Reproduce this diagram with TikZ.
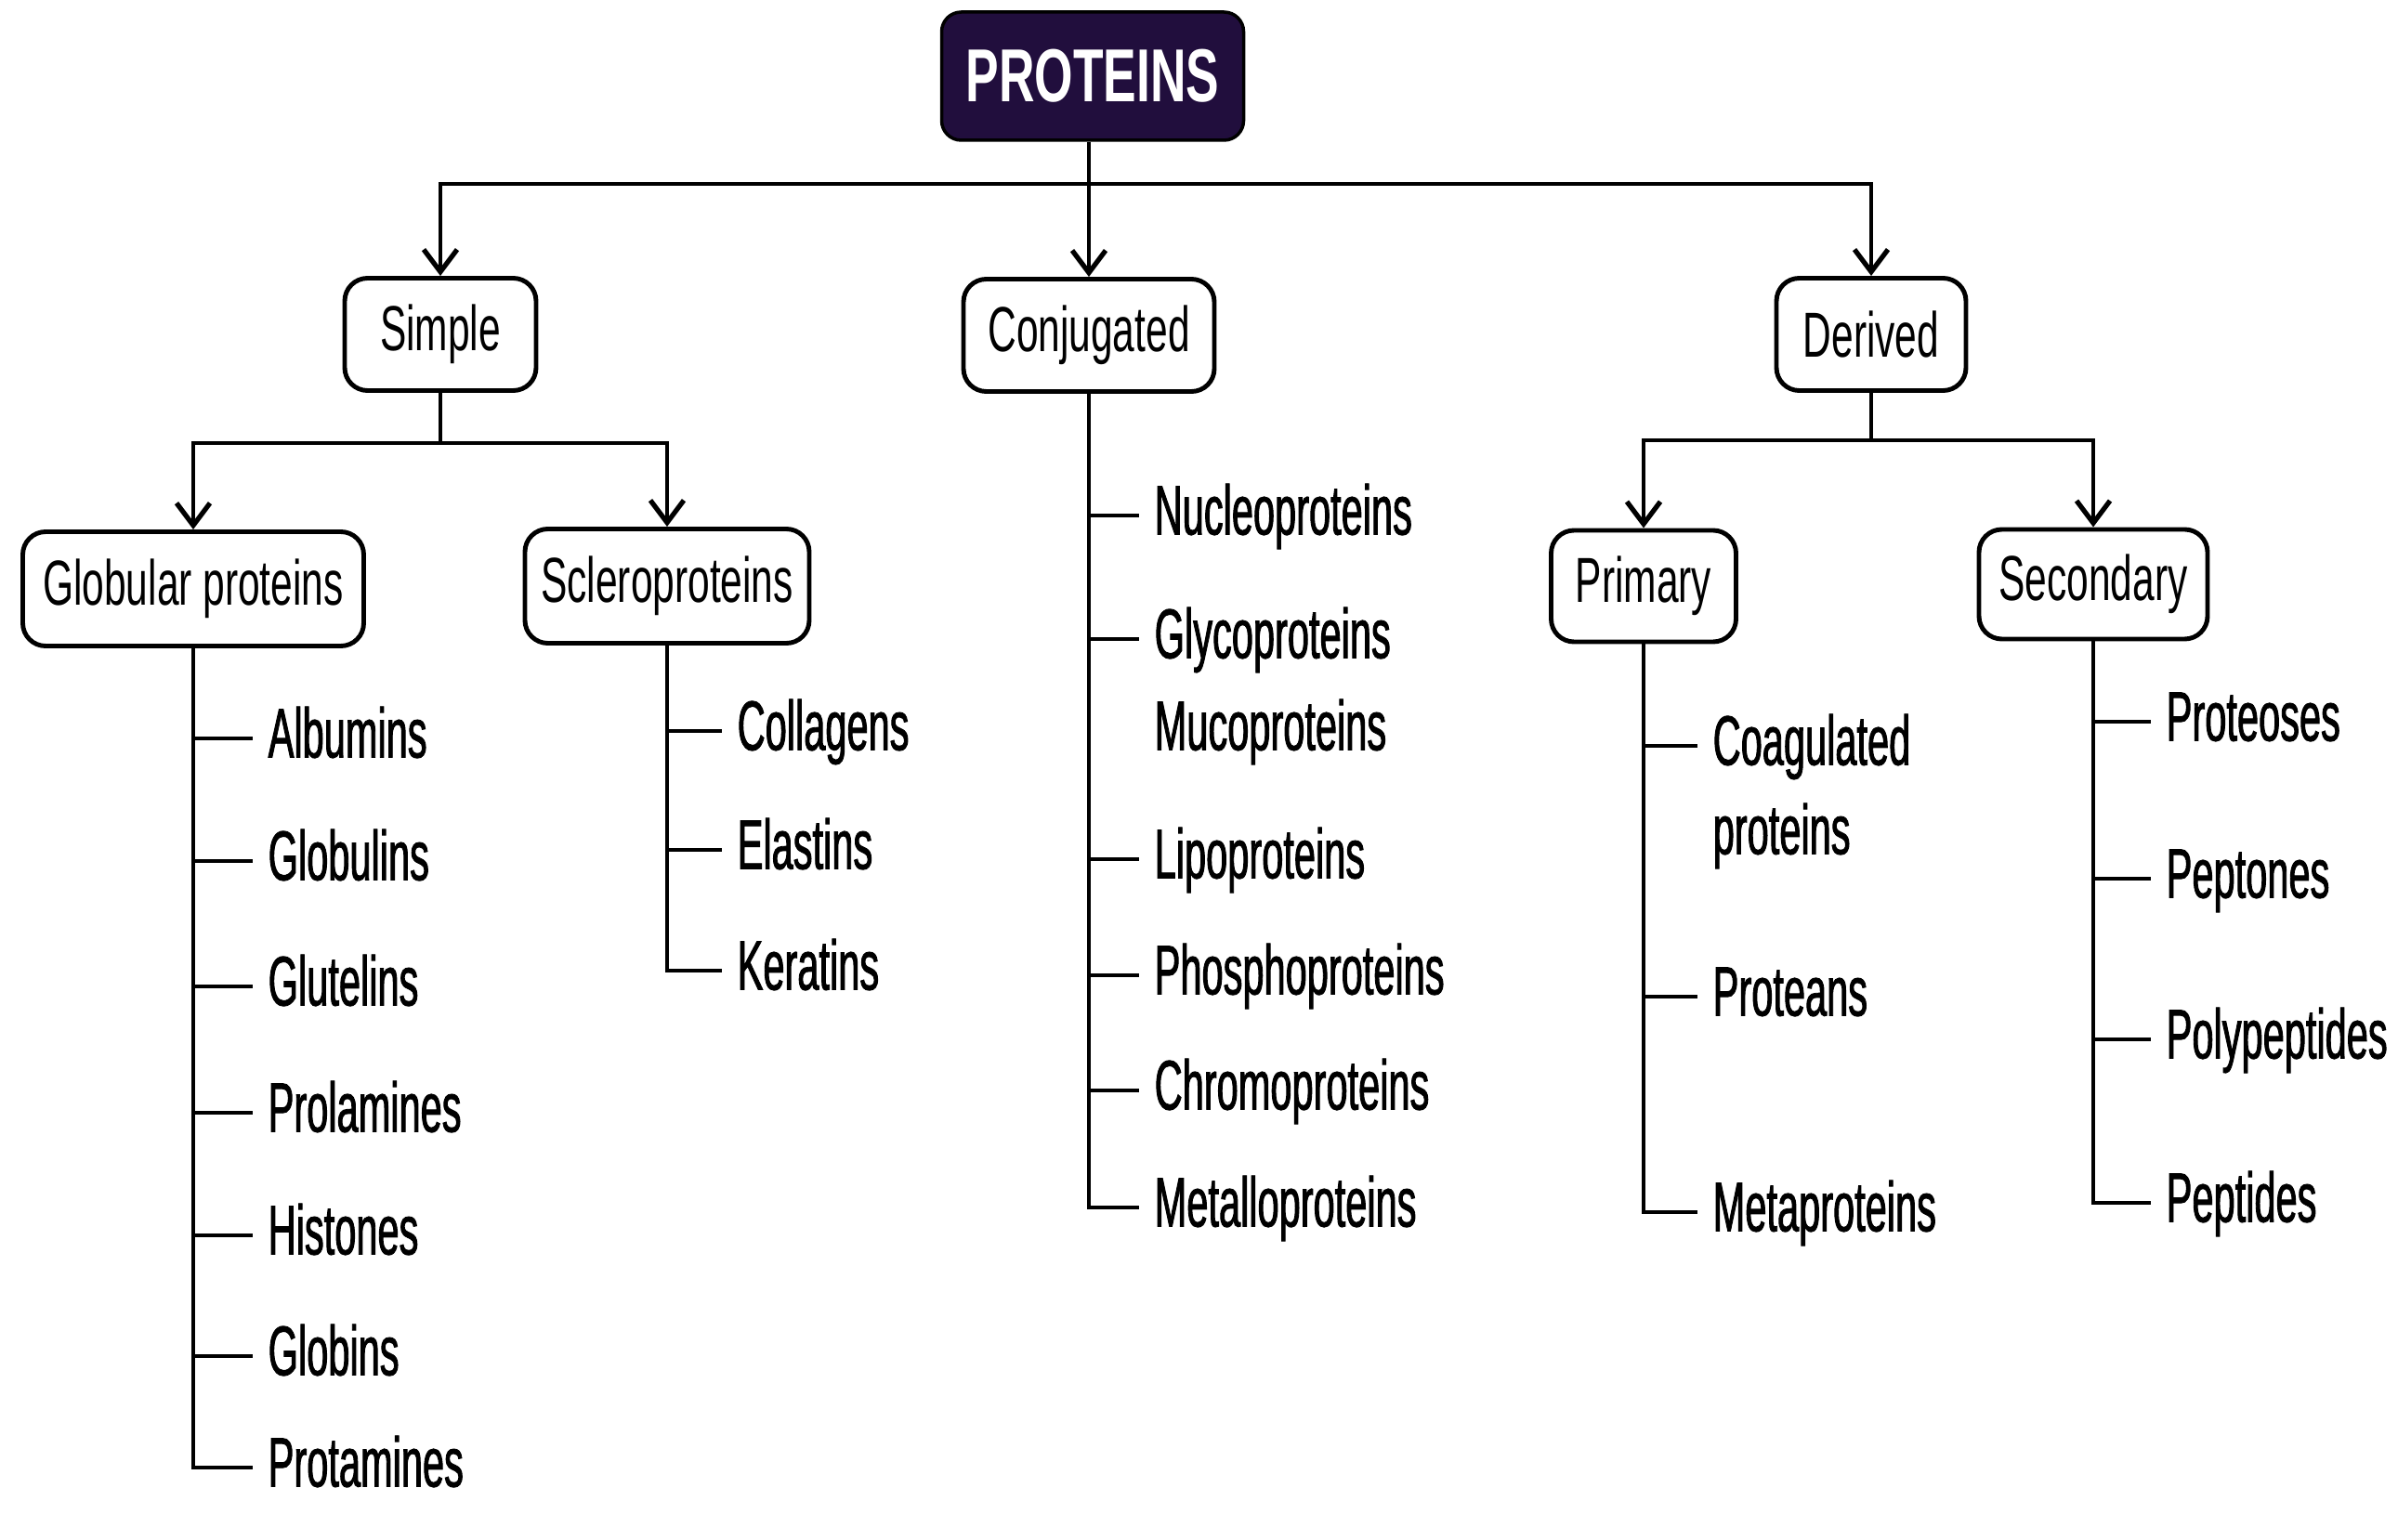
\documentclass[tikz,border=0pt]{standalone}
\usepackage{fontspec}
\usepackage{xcolor}
\usepackage{tikz}
\usetikzlibrary{arrows.meta,positioning}
\newfontfamily\ptleaffont[FakeStretch=0.55,FakeBold=1.2]{Liberation Sans}
\newfontfamily\ptboxfont[FakeStretch=0.62]{Liberation Sans}
\newfontfamily\pttopfont[FakeStretch=0.66]{Liberation Sans}
\definecolor{ptpurple}{HTML}{210E3D}
\tikzset{
ptroot/.style={rectangle,rounded corners=6pt,draw=black,fill=ptpurple,text=white,font=\pttopfont\bfseries\fontsize{23}{27}\selectfont,minimum width=3.25cm,minimum height=1.38cm,line width=1pt},
ptclass/.style={rectangle,rounded corners=7pt,draw,line width=1.4pt,font=\ptboxfont\fontsize{19.5}{23}\selectfont,minimum height=1.21cm,inner sep=2pt},
ptleaf/.style={anchor=west,inner ysep=0pt,inner xsep=0.16cm,font=\ptleaffont\fontsize{21.5}{25}\selectfont,text height=0.55cm,text depth=0.14cm},
ptline/.style={line width=1.2pt},
ptarr/.style={ptline,-{Straight Barb[length=2.4mm,width=3.6mm,line width=1.5pt]}}
}
\begin{document}
\begin{tikzpicture}[x=1cm,y=1cm]
\useasboundingbox (0,0) rectangle (25.81,-16.58);
% classes
\node[ptroot] (proteins) at (11.76,-0.82) {PROTEINS};
\node[ptclass,minimum width=2.06cm] (simple) at (4.74,-3.60) {Simple};
\node[ptclass,minimum width=2.70cm] (conjugated) at (11.72,-3.61) {Conjugated};
\node[ptclass,minimum width=2.04cm] (derived) at (20.14,-3.60) {Derived};
\node[ptclass,minimum width=3.67cm,minimum height=1.23cm] (globular) at (2.08,-6.34) {Globular proteins};
\node[ptclass,minimum width=3.06cm,minimum height=1.23cm] (sclero) at (7.18,-6.31) {Scleroproteins};
\node[ptclass,minimum width=1.99cm,minimum height=1.20cm] (primary) at (17.69,-6.31) {Primary};
\node[ptclass,minimum width=2.46cm,minimum height=1.18cm] (secondary) at (22.53,-6.29) {Secondary};
% branching
\coordinate (topbar) at (11.72,-1.98);
\coordinate (simplebar) at (4.74,-4.77);
\coordinate (derivedbar) at (20.14,-4.74);
\draw[ptarr] (proteins.south -| conjugated) -- (conjugated);
\draw[ptarr] (topbar) -| (simple);
\draw[ptarr] (topbar) -| (derived);
\draw[ptline] (simple) -- (simplebar);
\draw[ptarr] (simplebar) -| (globular);
\draw[ptarr] (simplebar) -| (sclero);
\draw[ptline] (derived) -- (derivedbar);
\draw[ptarr] (derivedbar) -| (primary);
\draw[ptarr] (derivedbar) -| (secondary);
% globular proteins
\node[ptleaf] (albumins) at (2.72,-7.95) {Albumins};
\node[ptleaf] (globulins) at (2.72,-9.27) {Globulins};
\node[ptleaf] (glutelins) at (2.72,-10.62) {Glutelins};
\node[ptleaf] (prolamines) at (2.72,-11.98) {Prolamines};
\node[ptleaf] (histones) at (2.72,-13.30) {Histones};
\node[ptleaf] (globins) at (2.72,-14.60) {Globins};
\node[ptleaf] (protamines) at (2.72,-15.80) {Protamines};
\draw[ptline] (globular.south |- albumins.west) -- (albumins.west);
\draw[ptline] (globular.south |- globulins.west) -- (globulins.west);
\draw[ptline] (globular.south |- glutelins.west) -- (glutelins.west);
\draw[ptline] (globular.south |- prolamines.west) -- (prolamines.west);
\draw[ptline] (globular.south |- histones.west) -- (histones.west);
\draw[ptline] (globular.south |- globins.west) -- (globins.west);
\draw[ptline] (globular) |- (protamines.west);
% scleroproteins
\node[ptleaf] (collagens) at (7.77,-7.87) {Collagens};
\node[ptleaf] (elastins) at (7.77,-9.15) {Elastins};
\node[ptleaf] (keratins) at (7.77,-10.45) {Keratins};
\draw[ptline] (sclero.south |- collagens.west) -- (collagens.west);
\draw[ptline] (sclero.south |- elastins.west) -- (elastins.west);
\draw[ptline] (sclero) |- (keratins.west);
% conjugated
\node[ptleaf] (nucleo) at (12.26,-5.55) {Nucleoproteins};
\node[ptleaf] (glyco) at (12.26,-6.88) {Glycoproteins};
\node[ptleaf] (muco) at (12.26,-7.87) {Mucoproteins};
\node[ptleaf] (lipo) at (12.26,-9.25) {Lipoproteins};
\node[ptleaf] (phospho) at (12.26,-10.50) {Phosphoproteins};
\node[ptleaf] (chromo) at (12.26,-11.74) {Chromoproteins};
\node[ptleaf] (metallo) at (12.26,-13.00) {Metalloproteins};
\draw[ptline] (conjugated.south |- nucleo.west) -- (nucleo.west);
\draw[ptline] (conjugated.south |- glyco.west) -- (glyco.west);
\draw[ptline] (conjugated.south |- lipo.west) -- (lipo.west);
\draw[ptline] (conjugated.south |- phospho.west) -- (phospho.west);
\draw[ptline] (conjugated.south |- chromo.west) -- (chromo.west);
\draw[ptline] (conjugated) |- (metallo.west);
% primary
\node[ptleaf] (coagulated) at (18.27,-8.03) {Coagulated};
\node[ptleaf] (coagprot) at (18.27,-8.99) {proteins};
\node[ptleaf] (proteans) at (18.27,-10.73) {Proteans};
\node[ptleaf] (metaprot) at (18.27,-13.05) {Metaproteins};
\draw[ptline] (primary.south |- coagulated.west) -- (coagulated.west);
\draw[ptline] (primary.south |- proteans.west) -- (proteans.west);
\draw[ptline] (primary) |- (metaprot.west);
% secondary
\node[ptleaf] (proteoses) at (23.15,-7.77) {Proteoses};
\node[ptleaf] (peptones) at (23.15,-9.46) {Peptones};
\node[ptleaf] (polypep) at (23.15,-11.19) {Polypeptides};
\node[ptleaf] (peptides) at (23.15,-12.95) {Peptides};
\draw[ptline] (secondary.south |- proteoses.west) -- (proteoses.west);
\draw[ptline] (secondary.south |- peptones.west) -- (peptones.west);
\draw[ptline] (secondary.south |- polypep.west) -- (polypep.west);
\draw[ptline] (secondary) |- (peptides.west);
\end{tikzpicture}
\end{document}
